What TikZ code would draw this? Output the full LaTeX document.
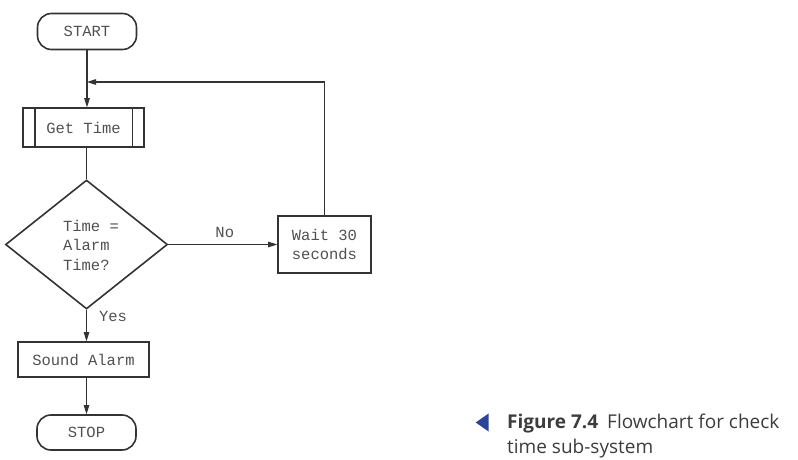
\documentclass[tikz,border=0pt]{standalone}
\usepackage{fontspec}
\setmonofont{Liberation Mono}
\newfontfamily\capfont{Open Sans}
\usetikzlibrary{shapes.geometric,arrows.meta}
\definecolor{txt}{HTML}{505050}
\definecolor{ln}{HTML}{333333}
\definecolor{capblue}{HTML}{2B4596}
\definecolor{capgray}{HTML}{3C3C3C}
\tikzset{
  box/.style={draw=ln, line width=1.6pt, rectangle, inner sep=0pt, text=txt,
    font=\ttfamily\fontsize{15.5}{19.5}\selectfont, align=center},
  term/.style={box, rounded corners=14pt},
  dec/.style={draw=ln, line width=1.6pt, diamond, inner sep=0pt, text=txt,
    font=\ttfamily\fontsize{15.5}{19.5}\selectfont, align=left,
    minimum width=162pt, minimum height=129pt},
  conn/.style={draw=ln, line width=1.1pt},
  arr/.style={conn, -{Triangle[length=9pt,width=5.5pt]}},
  lbl/.style={text=txt, font=\ttfamily\fontsize{15.5}{19.5}\selectfont, inner sep=0pt},
  captext/.style={anchor=base west, inner sep=0pt, text=capgray, font=\capfont\fontsize{19}{25}\selectfont}
}
\begin{document}
\begin{tikzpicture}[x=1pt,y=-1pt]
\useasboundingbox (0,0) rectangle (798,460);
\node[term, minimum width=99pt, minimum height=36pt] (start) at (87,31.5) {START};
\node[box, minimum width=121pt, minimum height=39pt] (gt) at (83.5,127.5) {Get Time};
\draw[ln, line width=1.6pt] ([xshift=12.5pt]gt.north west) -- ([xshift=12.5pt]gt.south west);
\draw[ln, line width=1.6pt] ([xshift=-12.5pt]gt.north east) -- ([xshift=-12.5pt]gt.south east);
\node[dec] (d) at (86.5,244.5) {};
\node[lbl, align=left] (dtext) at (91,245) {Time =\\Alarm\\Time?};
\node[box, minimum width=93pt, minimum height=57pt] (wait) at (324.5,244.5) {Wait 30\\seconds};
\node[box, minimum width=131pt, minimum height=35pt] (snd) at (83.5,359.5) {Sound Alarm};
\node[term, minimum width=99pt, minimum height=35pt] (stop) at (86.5,432.5) {STOP};
\coordinate (join) at (87,82);
\coordinate (corner) at (324.5,82);
\draw[arr] (start.south -| join) -- (gt.north -| join);
\draw[conn] (gt.south -| d.north) -- (d.north);
\draw[arr] (d.east) -- node[lbl, above=6pt, xshift=2pt] {No} (wait.west);
\draw[arr] (d.south) -- node[lbl, right=12pt, pos=0.2] {Yes} (snd.north -| d.south);
\draw[arr] (snd.south -| stop.north) -- (stop.north);
\draw[conn] (wait.north) -- (corner);
\draw[arr] (corner) -- (join);
\node[fill=capblue, isosceles triangle, shape border rotate=180, isosceles triangle apex angle=70,
  minimum height=13pt, minimum width=11pt, inner sep=0pt] (tri) at (484,422.5) {};
\node[captext] (cap1) at (507,428) {\textbf{Figure 7.4}};
\node[captext] (cap2) at (607,428) {Flowchart for check};
\node[captext] (cap3) at (507,453) {time sub-system};
\end{tikzpicture}
\end{document}
